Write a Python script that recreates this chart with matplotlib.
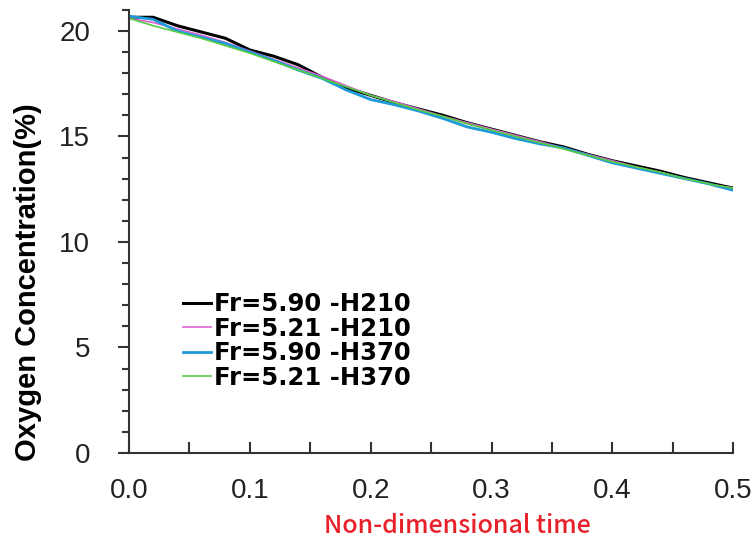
import matplotlib
matplotlib.use("Agg")
import matplotlib.pyplot as plt
from matplotlib.ticker import MultipleLocator

# non-dimensional time
t = [0.00, 0.02, 0.04, 0.06, 0.08, 0.10, 0.12, 0.14, 0.16, 0.18, 0.20, 0.22, 0.24,
     0.26, 0.28, 0.30, 0.32, 0.34, 0.36, 0.38, 0.40, 0.42, 0.44, 0.46, 0.48, 0.50]

fr590_h210 = [20.65, 20.65, 20.25, 19.95, 19.65, 19.1, 18.8, 18.4, 17.8, 17.3, 16.95, 16.6, 16.3,
              16.0, 15.65, 15.35, 15.05, 14.75, 14.5, 14.15, 13.85, 13.6, 13.35, 13.05, 12.8, 12.55]
fr521_h210 = [20.6, 20.4, 20.1, 19.8, 19.45, 19.05, 18.65, 18.25, 17.85, 17.4, 16.95, 16.65, 16.3,
              15.95, 15.65, 15.35, 15.05, 14.75, 14.45, 14.15, 13.85, 13.55, 13.3, 13.0, 12.75, 12.55]
fr590_h370 = [20.7, 20.55, 20.0, 19.7, 19.4, 19.0, 18.6, 18.15, 17.75, 17.2, 16.75, 16.5, 16.2,
              15.85, 15.45, 15.2, 14.9, 14.65, 14.45, 14.1, 13.75, 13.5, 13.25, 13.0, 12.75, 12.45]
fr521_h370 = [20.6, 20.25, 19.95, 19.65, 19.3, 18.95, 18.55, 18.15, 17.75, 17.35, 16.95, 16.6, 16.25,
              15.95, 15.6, 15.3, 15.0, 14.7, 14.4, 14.1, 13.8, 13.55, 13.3, 13.0, 12.75, 12.55]

labels = ["Fr=5.90 -H210", "Fr=5.21 -H210", "Fr=5.90 -H370", "Fr=5.21 -H370"]
xticks = [0, 0.1, 0.2, 0.3, 0.4, 0.5]
xticklabels = ["0.0", "0.1", "0.2", "0.3", "0.4", "0.5"]
yticks = [0, 5, 10, 15, 20]

fig = plt.figure(figsize=(7.52, 5.49), dpi=100)
ax = fig.add_axes([0.1715, 0.175, 0.8035, 0.807])

ax.plot(t, fr590_h210, color="black", lw=2.2, label=labels[0])
ax.plot(t, fr521_h210, color="#e060d0", lw=1.2, label=labels[1])
ax.plot(t, fr590_h370, color="#1e9ad8", lw=2.0, label=labels[2])
ax.plot(t, fr521_h370, color="#55cc44", lw=1.2, label=labels[3])

ax.set_xlim(0, 0.5)
ax.set_ylim(0, 21)
ax.xaxis.set_minor_locator(MultipleLocator(0.05))
ax.yaxis.set_minor_locator(MultipleLocator(1))
ax.set_yticks(yticks)
ax.set_xticks(xticks)
ax.set_xticklabels(xticklabels)

ax.spines["top"].set_visible(False)
ax.spines["right"].set_visible(False)
for s in ("left", "bottom"):
    ax.spines[s].set_linewidth(1.5)
    ax.spines[s].set_color("#333333")

ax.tick_params(axis="x", which="both", direction="in", width=1.5, color="#333333", length=8)
ax.tick_params(axis="x", which="major", pad=18)
ax.tick_params(axis="y", which="both", direction="out", width=1.5, color="#333333")
ax.tick_params(axis="y", which="major", length=8, pad=20)
ax.tick_params(axis="y", which="minor", length=5)
for lab in ax.get_xticklabels() + ax.get_yticklabels():
    lab.set_fontfamily(["Liberation Sans", "DejaVu Sans"])
    lab.set_fontsize(20)
    lab.set_color("#222222")

ax.set_xlabel("Non-dimensional time", color="#e8202a", fontsize=18, fontweight="medium",
              family=["Noto Sans CJK JP", "DejaVu Sans"])
ax.xaxis.set_label_coords(0.543, -0.135)
ax.set_ylabel("Oxygen Concentration(%)", fontsize=21, fontweight="bold",
              family=["Liberation Sans", "DejaVu Sans"])
ax.yaxis.set_label_coords(-0.144, 0.386)

leg = ax.legend(loc="lower left", bbox_to_anchor=(0.07, 0.115), frameon=False,
                borderpad=0, handlelength=1.15, handletextpad=0.1, labelspacing=0.02,
                prop={"family": ["DejaVu Sans"], "size": 17.5, "weight": "bold"})

fig.savefig("out.png", dpi=100)
